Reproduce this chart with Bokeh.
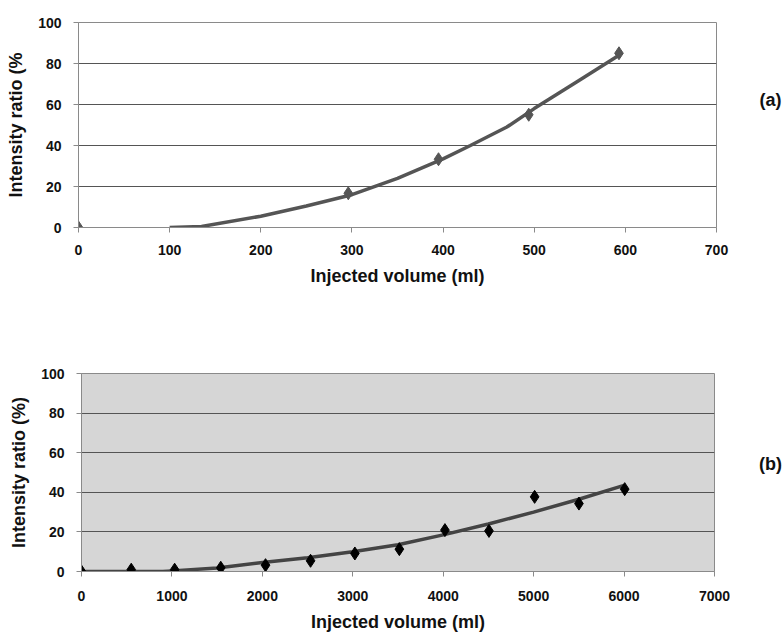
from bokeh.plotting import figure
from bokeh.layouts import column, row
from bokeh.models import Range1d, FixedTicker
from bokeh.core.properties import value
from bokeh.embed import file_html
from bokeh.resources import INLINE

# ---- data (a) ----
a_x = [0, 296, 395, 494, 593]
a_y = [0, 16.7, 33.3, 55, 85]
a_fit_x = [100, 135, 200, 250, 300, 350, 400, 430, 470, 500, 550, 593]
a_fit_y = [0, 0.5, 5.5, 10.5, 16, 24, 33.5, 40, 49, 58, 72, 84]

# ---- data (b) ----
b_x = [0, 550, 1030, 1540, 2035, 2533, 3023, 3515, 4019, 4506, 5011, 5501, 6007]
b_y = [0, 0.9, 0.9, 1.9, 3.2, 5.4, 9.1, 11.3, 20.9, 20.5, 37.7, 34.3, 41.6]
b_fit_x = [0, 900, 1000, 1500, 2000, 2500, 3000, 3500, 4000, 4500, 5000, 5500, 6000]
b_fit_y = [0, 0, 0.3, 1.8, 4.5, 7, 10, 13.5, 18.5, 24, 30, 36.5, 43.5]

a_xticks = [0, 100, 200, 300, 400, 500, 600, 700]
b_xticks = [0, 1000, 2000, 3000, 4000, 5000, 6000, 7000]
yticks = [0, 20, 40, 60, 80, 100]
panel_labels = ["(a)", "(b)"]

FONT = "Liberation Sans"


def style(p, xticks):
    p.xaxis.ticker = FixedTicker(ticks=xticks)
    p.yaxis.ticker = FixedTicker(ticks=yticks)
    for ax in (p.xaxis, p.yaxis):
        ax.major_label_text_font = FONT
        ax.major_label_text_font_style = "bold"
        ax.major_label_text_font_size = "14px"
        ax.major_label_text_color = "#111111"
        ax.axis_label_text_font = FONT
        ax.axis_label_text_font_style = "bold"
        ax.axis_label_text_color = "#111111"
        ax.axis_line_color = "#8a8a8a"
        ax.major_tick_line_color = "#8a8a8a"
        ax.major_tick_out = 5
        ax.major_tick_in = 0
        ax.minor_tick_line_color = None
    p.xaxis.axis_label_text_font_size = "18px"
    p.yaxis.axis_label_text_font_size = "18px"
    p.xaxis.major_label_standoff = 12
    p.yaxis.major_label_standoff = 12
    p.xaxis.axis_label_standoff = 8
    p.yaxis.axis_label_standoff = 9
    p.xgrid.grid_line_color = None
    p.ygrid.grid_line_color = "#555555"
    p.ygrid.grid_line_width = 1
    p.outline_line_color = "#8a8a8a"
    p.border_fill_color = "white"


def label_fig(h, ty, txt):
    f = figure(width=54, height=h, output_backend="svg", toolbar_location=None,
               x_range=Range1d(0, 54), y_range=Range1d(0, h),
               min_border=0, min_border_left=0, min_border_right=0,
               min_border_top=0, min_border_bottom=0)
    f.axis.visible = False
    f.grid.visible = False
    f.outline_line_color = None
    f.text(x=[40], y=[ty], text=[txt], text_font=value(FONT),
           text_font_style="bold", text_font_size="18px",
           text_align="center", text_baseline="middle", text_color="#111111")
    return f


# ---- figure (a) ----
pa = figure(width=730, height=300, output_backend="svg", toolbar_location=None,
            x_range=Range1d(0, 700), y_range=Range1d(0, 100),
            min_border_left=78, min_border_right=14, min_border_top=22,
            min_border_bottom=73)
style(pa, a_xticks)
pa.background_fill_color = "white"
pa.xaxis.axis_label = "Injected volume (ml)"
pa.yaxis.axis_label = "Intensity ratio (%"
pa.line(a_fit_x, a_fit_y, line_color="#555555", line_width=3.5)
pa.scatter(a_x, a_y, marker="diamond", size=13, fill_color="#555555",
           line_color="#555555")
la = label_fig(300, 186, panel_labels[0])

# ---- figure (b) ----
pb = figure(width=730, height=334, output_backend="svg", toolbar_location=None,
            x_range=Range1d(0, 7000), y_range=Range1d(0, 100),
            min_border_left=81, min_border_right=16, min_border_top=73,
            min_border_bottom=63)
style(pb, b_xticks)
pb.xaxis.major_label_standoff = 14
pb.background_fill_color = "#d6d6d6"
pb.xaxis.axis_label = "Injected volume (ml)"
pb.yaxis.axis_label = "Intensity ratio (%)"
pb.line(b_fit_x, b_fit_y, line_color="#444444", line_width=3.5)
pb.scatter(b_x, b_y, marker="diamond", size=13, fill_color="#000000",
           line_color="#000000")
lb = label_fig(334, 181, panel_labels[1])

layout = column(row(pa, la, spacing=0), row(pb, lb, spacing=0), spacing=0)
open("out.html", "w").write(file_html(layout, INLINE))
